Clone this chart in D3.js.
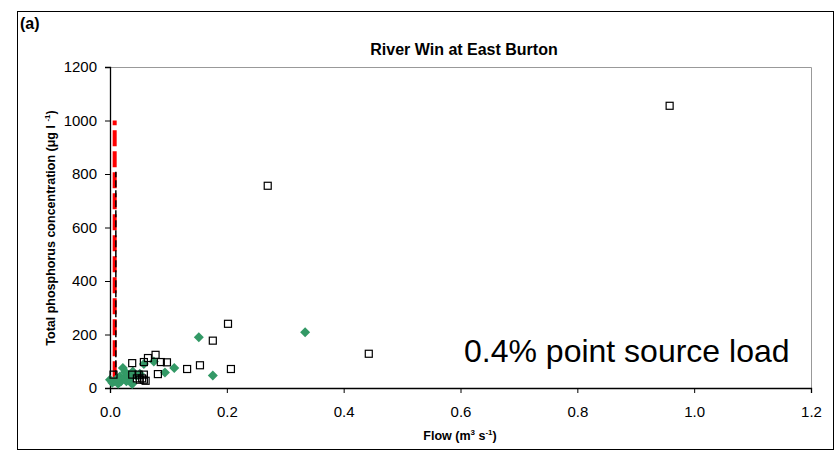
<!DOCTYPE html>
<html>
<head>
<meta charset="utf-8">
<script src="https://cdn.jsdelivr.net/npm/d3@7"></script>
<style>
  body { margin: 0; background: #fff; }
  svg { font-family: "Liberation Sans", Arial, sans-serif; }
</style>
</head>
<body>
<div id="chart"></div>
<script>
// Chart values
var squareFlow = [0.958, 0.27, 0.443, 0.202, 0.176, 0.154, 0.132, 0.207, 0.0975, 0.087, 0.078, 0.082, 0.065, 0.058, 0.038, 0.006, 0.038, 0.049, 0.058, 0.046, 0.051, 0.058, 0.061, 0.055];
var squareTP   = [1055, 756, 128, 240, 177, 85, 71, 71, 96, 97, 124, 52, 112, 97, 93, 50, 50, 50, 50, 36, 31, 31, 27, 36];

var diamondFlow = [0.334, 0.152, 0.176, 0.11, 0.094, 0.075, 0.058, 0.039, 0.051, 0.035, 0.038, 0.022, 0.0, 0.008, 0.017, 0.019, 0.025, 0.014, 0.028, 0.004, 0.012, 0.03, 0.045, 0.026];
var diamondTP   = [208, 190, 47, 75, 58, 99, 90, 62, 53, 40, 15, 75, 31, 25, 43, 25, 37, 16, 25, 20, 35, 50, 45, 60];

// vertical reference lines [flow, from, to]
var redLine = [0.008, 40, 1000];
var blackLine = [0.010, 40, 808];

var xTicks = [0, 0.2, 0.4, 0.6, 0.8, 1.0, 1.2];
var yTicks = [0, 200, 400, 600, 800, 1000, 1200];

var svgWidth = 836;
var svgHeight = 456;

var margin = { top: 67, right: 25, bottom: 68, left: 110 };
var width = svgWidth - margin.left - margin.right;
var height = svgHeight - margin.top - margin.bottom;

var svg = d3.select("#chart")
  .append("svg")
  .attr("width", svgWidth)
  .attr("height", svgHeight);

// outer frame
svg.append("rect")
  .attr("x", 17.5)
  .attr("y", 11.5)
  .attr("width", 816)
  .attr("height", 438)
  .attr("fill", "none")
  .attr("stroke", "#000")
  .attr("stroke-width", 1);

var chartGroup = svg.append("g")
  .attr("transform", `translate(${margin.left}, ${margin.top})`);

var xScale = d3.scaleLinear().domain([0, 1.2]).range([0, width]);
var yScale = d3.scaleLinear().domain([0, 1200]).range([height, 0]);

// plot area border (grey top & right)
chartGroup.append("path")
  .attr("d", `M0,0.5H${width + 0.5}V${height}`)
  .attr("fill", "none")
  .attr("stroke", "#999")
  .attr("stroke-width", 1);

var bottomAxis = d3.axisBottom(xScale).tickValues(xTicks).tickFormat(d3.format(".1f")).tickSizeOuter(0).tickSize(5).tickPadding(13);
var leftAxis = d3.axisLeft(yScale).tickValues(yTicks).tickFormat(d3.format("d")).tickSizeOuter(0).tickSize(5).tickPadding(8);

var xg = chartGroup.append("g").attr("transform", `translate(0, ${height})`).call(bottomAxis);
var yg = chartGroup.append("g").call(leftAxis);
[xg, yg].forEach(function (g) {
  g.selectAll("text").style("font-size", "15px").style("fill", "#000").style("font-family", "Liberation Sans, Arial, sans-serif");
  g.selectAll("line").attr("stroke", "#000");
  g.select(".domain").attr("stroke", "#000").attr("stroke-width", 1.3);
});

// reference lines
chartGroup.append("line")
  .attr("x1", xScale(redLine[0])).attr("x2", xScale(redLine[0]))
  .attr("y1", yScale(redLine[1])).attr("y2", yScale(redLine[2]))
  .attr("stroke", "#ff0000")
  .attr("stroke-width", 4)
  .attr("stroke-dasharray", "16,5");

chartGroup.append("line")
  .attr("x1", xScale(blackLine[0])).attr("x2", xScale(blackLine[0]))
  .attr("y1", yScale(blackLine[1])).attr("y2", yScale(blackLine[2]))
  .attr("stroke", "#000")
  .attr("stroke-width", 1.5)
  .attr("stroke-dasharray", "7,3");

// green diamonds
var diamonds = diamondFlow.map(function (f, i) { return { flow: f, tp: diamondTP[i] }; });
chartGroup.selectAll(".diamond")
  .data(diamonds)
  .enter()
  .append("path")
  .attr("class", "diamond")
  .attr("d", "M0,-5L5,0L0,5L-5,0Z")
  .attr("transform", d => `translate(${xScale(d.flow)}, ${yScale(d.tp)})`)
  .attr("fill", "#339966");

// open squares
var squares = squareFlow.map(function (f, i) { return { flow: f, tp: squareTP[i] }; });
chartGroup.selectAll(".square")
  .data(squares)
  .enter()
  .append("rect")
  .attr("class", "square")
  .attr("x", d => xScale(d.flow) - 3.5)
  .attr("y", d => yScale(d.tp) - 3.5)
  .attr("width", 7)
  .attr("height", 7)
  .attr("fill", "none")
  .attr("stroke", "#000")
  .attr("stroke-width", 1.2);

// titles
svg.append("text")
  .attr("x", 20)
  .attr("y", 29)
  .style("font-size", "16px")
  .style("font-weight", "bold")
  .text("(a)");

svg.append("text")
  .attr("x", 464)
  .attr("y", 55)
  .attr("text-anchor", "middle")
  .style("font-size", "16px")
  .style("font-weight", "bold")
  .text("River Win at East Burton");

chartGroup.append("text")
  .attr("x", 464 - margin.left)
  .attr("y", 362 - margin.top)
  .style("font-size", "32px")
  .text("0.4% point source load");

// axis labels
var yLab = svg.append("text")
  .attr("transform", "translate(55, 228) rotate(-90)")
  .attr("text-anchor", "middle")
  .style("font-size", "12.5px")
  .style("font-weight", "bold");
yLab.append("tspan").text("Total phosphorus concentration (μg l ");
yLab.append("tspan").attr("dy", -5).style("font-size", "8px").text("-1");
yLab.append("tspan").attr("dy", 5).text(")");

var xLab = svg.append("text")
  .attr("x", 460)
  .attr("y", 440)
  .attr("text-anchor", "middle")
  .style("font-size", "12.5px")
  .style("font-weight", "bold");
xLab.append("tspan").text("Flow (m");
xLab.append("tspan").attr("dy", -5).style("font-size", "8px").text("3");
xLab.append("tspan").attr("dy", 5).text(" s");
xLab.append("tspan").attr("dy", -5).style("font-size", "8px").text("-1");
xLab.append("tspan").attr("dy", 5).text(")");
</script>
</body>
</html>
